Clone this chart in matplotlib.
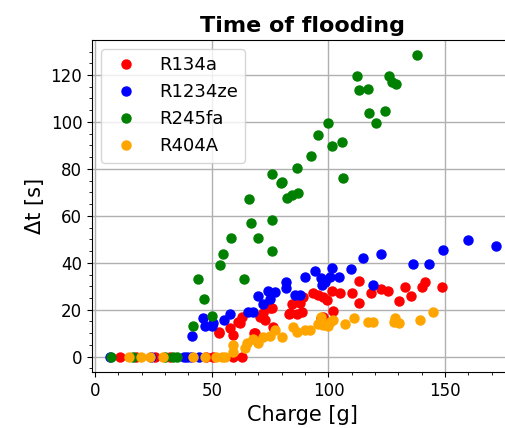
import numpy as np
import matplotlib.pyplot as plt

# charge [g] and flooding time [s] per refrigerant
r134a_x = [10.7, 17.5, 25.7, 32.1, 47.7, 50.6, 59.2, 62.8,
           52.9, 53.3, 57.9, 59.3, 61.4, 62.1, 62.9, 67.9, 68.6, 70.7, 72.1, 72.9,
           75.0, 75.7, 76.1, 82.9, 83.6, 84.3, 86.4, 87.9, 88.6, 89.3, 93.3, 95.7,
           96.9, 97.5, 97.7, 99.3, 101.4, 102.1, 105.0, 110.3, 112.9, 112.9, 118.2,
           122.5, 125.7, 130.2, 132.9, 135.3, 140.0, 141.4, 148.7]
r134a_y = [0, 0, 0, 0, 0, 0, 0, 0,
           10.4, 10.2, 12.1, 9.2, 14.8, 14.2, 17.0, 10.0, 10.0, 17.0, 18.5, 15.6,
           20.6, 20.6, 12.5, 18.2, 18.5, 22.6, 18.2, 22.7, 19.2, 25.3, 27.0, 26.3,
           16.3, 16.8, 25.6, 24.2, 28.1, 19.6, 27.3, 27.3, 32.3, 22.7, 27.0,
           28.8, 28.0, 23.7, 29.6, 26.0, 29.6, 31.7, 29.6]

r1234ze_x = [6.4, 24.0, 38.0, 39.3, 41.0, 44.5,
             41.4, 46.2, 47.1, 50.0, 50.7, 55.4, 57.8, 65.7, 67.5, 70.0, 71.9,
             74.0, 75.0, 77.3, 81.7, 81.8, 85.8, 87.8, 90.1, 94.4, 96.9, 97.3,
             98.6, 100.7, 101.7, 104.4, 109.6, 115.0, 118.9, 122.6, 136.4, 143.3,
             149.3, 159.7, 171.6]
r1234ze_y = [0, 0, 0, 0, 0, 0,
             8.6, 16.5, 13.1, 13.1, 14.2, 15.6, 18.3, 19.2, 19.2, 26.0, 22.4,
             28.1, 24.6, 27.4, 31.6, 29.1, 26.1, 26.2, 33.9, 36.5, 33.7, 30.4,
             32.0, 34.1, 37.6, 33.9, 37.5, 41.9, 30.5, 43.9, 39.5, 39.5,
             45.3, 49.7, 47.2]

r245fa_x = [6.7, 16.4, 30.0, 33.4, 35.1,
            41.9, 44.1, 46.8, 50.0, 53.7, 55.0, 58.3, 63.9, 65.9, 66.6, 70.0,
            75.7, 75.7, 76.0, 79.6, 80.0, 82.2, 84.3, 86.7, 87.1, 92.6, 95.7,
            100.0, 101.7, 105.9, 106.3, 112.3, 113.1, 116.9, 117.4, 120.4, 124.1,
            126.1, 127.1, 129.0, 137.9]
r245fa_y = [0, 0, 0, 0, 0,
            13.1, 33.1, 24.6, 17.5, 39.2, 43.8, 50.6, 33.1, 67.2, 56.8, 50.7,
            45.2, 77.7, 58.2, 74.1, 74.3, 67.5, 68.9, 80.5, 69.9, 85.5, 94.3,
            99.6, 89.9, 91.6, 76.0, 119.6, 113.5, 114.2, 104.0, 99.4, 104.8,
            119.4, 117.2, 116.2, 128.4]

r404a_x = [14.7, 19.6, 23.6, 29.0, 42.1, 47.1, 51.9, 54.3, 55.7,
           58.9, 59.0, 64.3, 65.0, 67.7, 70.0, 72.1, 75.0, 77.1, 80.3, 84.7,
           86.4, 90.0, 92.1, 95.4, 96.9, 97.6, 100.0, 100.7, 101.9, 107.1, 111.0,
           117.1, 119.3, 127.9, 128.6, 130.4, 139.3, 144.6]
r404a_y = [0, 0, 0, 0, 0, 0, 0, 0, 0,
           2.1, 5.0, 3.6, 5.7, 7.4, 6.0, 8.5, 9.0, 11.4, 8.5, 12.5,
           10.6, 11.4, 11.4, 13.9, 17.0, 13.4, 13.0, 14.7, 15.8, 13.9, 16.5,
           14.8, 14.8, 14.8, 16.3, 14.5, 15.6, 19.2]

series = [
    ("R134a", r134a_x, r134a_y, "red"),
    ("R1234ze", r1234ze_x, r1234ze_y, "blue"),
    ("R245fa", r245fa_x, r245fa_y, "green"),
    ("R404A", r404a_x, r404a_y, "orange"),
]

fig = plt.figure(figsize=(5.06, 4.28), dpi=100)
ax = fig.add_axes([0.182, 0.131, 0.83, 0.7755])

for name, xs, ys, col in series:
    ax.plot(xs, ys, "o", color=col, markersize=6.5, label=name)

ax.set_xlim(-1.3, 178.7)
ax.set_ylim(-6.5, 134.9)
ax.set_xticks([0, 50, 100, 150])
ax.set_yticks(np.arange(0, 121, 20))
ax.minorticks_on()
ax.grid(True, which="major", color="#b0b0b0", linewidth=1.0)
ax.set_axisbelow(True)
ax.tick_params(labelsize=12)

ax.set_xlabel("Charge [g]", fontsize=15)
ax.set_ylabel("Δt [s]", fontsize=15)
ax.set_title("Time of flooding", fontsize=16, fontweight="bold")
ax.legend(loc="upper left", fontsize=13)

fig.savefig("out.png", dpi=100)
